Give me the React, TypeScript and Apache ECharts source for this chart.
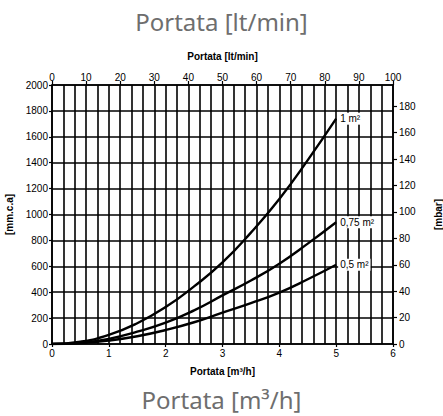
import React, { useEffect, useRef } from "react";
import * as echarts from "echarts";

const flowM3h = [0, 0.5, 1, 1.5, 2, 2.5, 3, 3.5, 4, 4.5, 5];
const loss1m2 = [0, 18, 70, 160, 285, 445, 630, 860, 1120, 1420, 1740];
const loss075m2 = [0, 10, 40, 95, 165, 260, 375, 490, 620, 775, 940];
const loss05m2 = [0, 7, 27, 60, 108, 168, 242, 315, 397, 500, 612];
const seriesNames = ["1 m²", "0,75 m²", "0,5 m²"];
const mbarTicks = [0, 20, 40, 60, 80, 100, 120, 140, 160, 180];

const FONT = "Liberation Sans, Arial, sans-serif";

export default function App() {
  const ref = useRef<HTMLDivElement>(null);
  useEffect(() => {
    if (!ref.current) return;
    const chart = echarts.init(ref.current, undefined, { renderer: "svg" });
    const gridColor = "#000";
    const mkSeries = (name: string, vals: number[]) => ({
      type: "line",
      name,
      xAxisIndex: 0,
      yAxisIndex: 0,
      smooth: true,
      symbol: "none",
      lineStyle: { color: "#000", width: 2.4 },
      endLabel: {
        show: true,
        formatter: name,
        distance: 2,
        color: "#000",
        fontSize: 10,
        fontFamily: FONT,
        backgroundColor: "#fff",
        padding: [1, 2, 1, 2],
      },
      data: vals.map((v, i) => [flowM3h[i], v]),
      z: 5,
    });
    const num = (v: number) => String(v);
    chart.setOption({
      animation: false,
      backgroundColor: "#fff",
      title: [
        {
          text: "Portata [lt/min]",
          left: "center",
          top: 4,
          textStyle: { color: "#6e6e6e", fontSize: 24, fontWeight: "normal", fontFamily: "Noto Sans" },
        },
        {
          text: "Portata [m³/h]",
          left: "center",
          top: 382,
          textStyle: { color: "#6e6e6e", fontSize: 24, fontWeight: "normal", fontFamily: "Noto Sans" },
        },
      ],
      grid: { left: 52, right: 50, top: 85, bottom: 72, outerBoundsMode: "none", containLabel: false },
      xAxis: [
        {
          type: "value",
          position: "bottom",
          min: 0,
          max: 6,
          interval: 1,
          name: "Portata [m³/h]",
          nameLocation: "middle",
          nameGap: 22,
          nameTextStyle: { color: "#000", fontSize: 10, fontWeight: "bold", fontFamily: FONT },
          axisLine: { show: true, onZero: false, lineStyle: { color: gridColor, width: 1.6 } },
          axisTick: { show: true, length: 3, lineStyle: { color: gridColor, width: 1.2 } },
          axisLabel: { color: "#000", fontSize: 10, fontFamily: FONT, margin: 4, formatter: num },
          splitLine: { show: true, lineStyle: { color: gridColor, width: 1.6 } },
          minorTick: { show: false, splitNumber: 5 },
          minorSplitLine: { show: true, lineStyle: { color: gridColor, width: 1.6 } },
        },
        {
          type: "value",
          position: "top",
          min: 0,
          max: 100,
          interval: 10,
          name: "Portata [lt/min]",
          nameLocation: "middle",
          nameGap: 24,
          nameTextStyle: { color: "#000", fontSize: 10, fontWeight: "bold", fontFamily: FONT },
          axisLine: { show: true, onZero: false, lineStyle: { color: gridColor, width: 1.6 } },
          axisTick: { show: true, length: 4, lineStyle: { color: gridColor, width: 1.2 } },
          axisLabel: { color: "#000", fontSize: 10, fontFamily: FONT, margin: 3, formatter: num },
          splitLine: { show: false },
        },
      ],
      yAxis: [
        {
          type: "value",
          position: "left",
          min: 0,
          max: 2000,
          interval: 200,
          name: "[mm.c.a]",
          nameLocation: "middle",
          nameGap: 34,
          nameRotate: 90,
          nameTextStyle: { color: "#000", fontSize: 10, fontWeight: "bold", fontFamily: FONT },
          axisLine: { show: true, onZero: false, lineStyle: { color: gridColor, width: 1.6 } },
          axisTick: { show: true, length: 3, lineStyle: { color: gridColor, width: 1.2 } },
          axisLabel: { color: "#000", fontSize: 10, fontFamily: FONT, margin: 4, formatter: num },
          splitLine: { show: true, lineStyle: { color: gridColor, width: 1.6 } },
        },
        {
          type: "value",
          position: "right",
          min: 0,
          max: 2000 / 10.197,
          name: "[mbar]",
          nameLocation: "middle",
          nameGap: 40,
          nameRotate: 90,
          nameTextStyle: { color: "#000", fontSize: 10, fontWeight: "bold", fontFamily: FONT },
          axisLine: { show: true, onZero: false, lineStyle: { color: gridColor, width: 1.6 } },
          axisTick: {
            show: true,
            length: 4,
            inside: false,
            customValues: mbarTicks,
            lineStyle: { color: gridColor, width: 1.2 },
          },
          axisLabel: { color: "#000", fontSize: 10, fontFamily: FONT, margin: 6, customValues: mbarTicks, formatter: num },
          splitLine: { show: false },
        },
      ],
      series: [
        mkSeries(seriesNames[0], loss1m2),
        mkSeries(seriesNames[1], loss075m2),
        mkSeries(seriesNames[2], loss05m2),
      ],
    });
    return () => chart.dispose();
  }, []);
  return <div ref={ref} style={{ width: 443, height: 416, position: "absolute", left: 0, top: 0 }} />;
}
